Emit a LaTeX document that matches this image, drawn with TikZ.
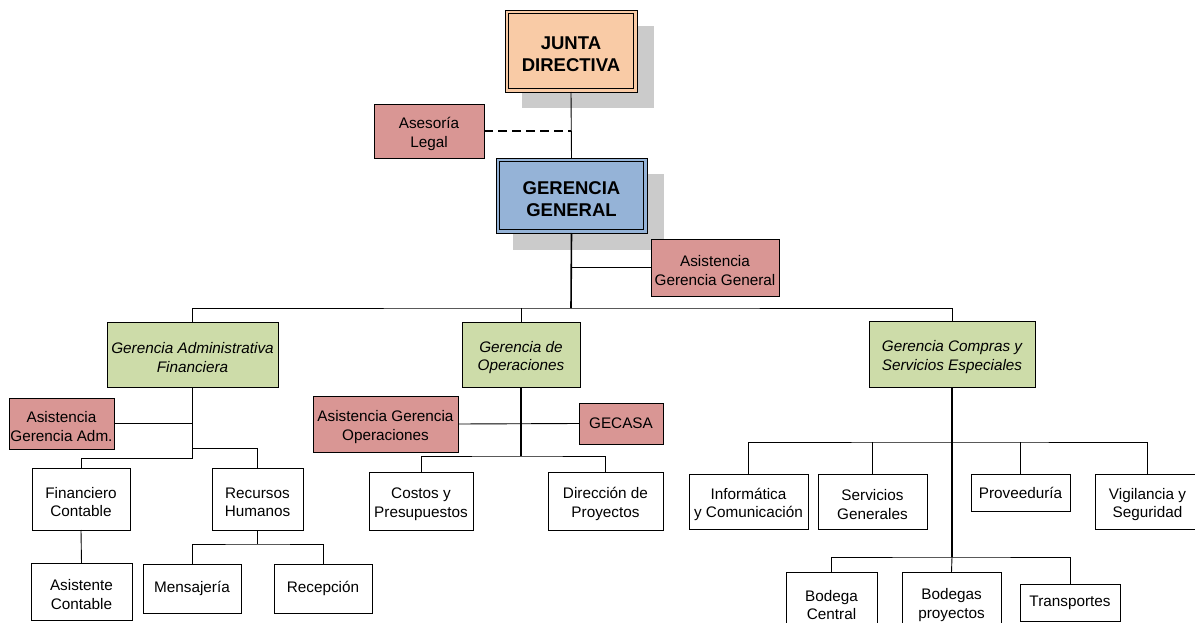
\documentclass[tikz,border=0pt]{standalone}
\usepackage{fontspec}
\setmainfont{Liberation Sans}
\usetikzlibrary{backgrounds}
\definecolor{juntafill}{HTML}{F9CBA6}
\definecolor{generalfill}{HTML}{95B3D7}
\definecolor{staffill}{HTML}{D99694}
\definecolor{mgrfill}{HTML}{CDDCA9}
\definecolor{shadowgray}{HTML}{CBCBCB}
\tikzset{
  box/.style={draw, line width=0.8pt, inner sep=0pt, outer sep=0pt, align=center,
    font=\fontsize{15.3}{18.5}\selectfont},
  plainbox/.style={box, fill=white},
  staffbox/.style={box, fill=staffill},
  mgrbox/.style={box, fill=mgrfill, font=\fontsize{15.3}{18.5}\selectfont\itshape},
  topbox/.style={box, font=\fontsize{18.5}{22}\selectfont\bfseries},
  link/.style={line width=0.9pt},
  trunk/.style={line width=1.6pt},
}
% taller first line: lowers a two-line label a little inside its box
\newcommand{\lift}{\rule{0pt}{17pt}}
\newcommand{\liftbig}{\rule{0pt}{20pt}}
\newcommand{\innerframe}[1]{%
  \draw[line width=0.8pt] ([shift={(3.3pt,-3.3pt)}]#1.north west) rectangle ([shift={(-3.3pt,3.3pt)}]#1.south east);}
\newcommand{\dropshadow}[1]{%
  \begin{scope}[on background layer]
    \fill[shadowgray] ([shift={(16.5pt,-16.5pt)}]#1.north west) rectangle ([shift={(16.5pt,-16.5pt)}]#1.south east);
  \end{scope}}
\begin{document}
\begin{tikzpicture}[x=1pt,y=-1pt]
\useasboundingbox (0,0) rectangle (1195,623);
\clip (0,0) rectangle (1195,623);

% top level
\node[topbox, fill=juntafill, minimum width=132pt, minimum height=82pt] (jd) at (571,51) {\liftbig JUNTA\\DIRECTIVA};
\node[topbox, fill=generalfill, minimum width=151pt, minimum height=75pt] (gg) at (571.5,195.5) {\liftbig GERENCIA\\GENERAL};
\innerframe{jd}
\innerframe{gg}
\dropshadow{jd}
\dropshadow{gg}

\node[staffbox, minimum width=110pt, minimum height=54pt] (asl) at (429,131) {\lift Asesoría\\Legal};
\node[staffbox, minimum width=128pt, minimum height=57pt] (ags) at (715,267.5) {\lift Asistencia\\Gerencia General};

% managers
\node[mgrbox, minimum width=171pt, minimum height=65pt] (gaf) at (192.5,354.5) {\lift Gerencia Administrativa\\Financiera};
\node[mgrbox, minimum width=118pt, minimum height=65pt] (gop) at (521,354.5) {\lift Gerencia de\\Operaciones};
\node[mgrbox, minimum width=166pt, minimum height=66pt] (gcs) at (952,354) {\lift Gerencia Compras y\\Servicios Especiales};

% administrative branch
\node[staffbox, minimum width=105pt, minimum height=51pt] (aga) at (61.5,423.5) {\lift Asistencia\\Gerencia Adm.};
\node[plainbox, minimum width=98pt, minimum height=62pt] (fc) at (81,499) {\lift Financiero\\Contable};
\node[plainbox, minimum width=91pt, minimum height=62pt] (rh) at (257.5,499) {\lift Recursos\\Humanos};
\node[plainbox, minimum width=101pt, minimum height=57pt] (ac) at (81.5,591.5) {\lift Asistente\\Contable};
\node[plainbox, minimum width=98pt, minimum height=49pt] (men) at (192,588.5) {Mensajería};
\node[plainbox, minimum width=98pt, minimum height=49pt] (rec) at (323,588.5) {Recepción};

% operations branch
\node[staffbox, minimum width=145pt, minimum height=56pt] (ago) at (385.5,424) {\lift Asistencia Gerencia\\Operaciones};
\node[staffbox, minimum width=84pt, minimum height=41pt] (gec) at (621,423.5) {GECASA};
\node[plainbox, minimum width=104pt, minimum height=58pt] (cp) at (421,501) {\lift Costos y\\Presupuestos};
\node[plainbox, minimum width=115pt, minimum height=58pt] (dp) at (605.5,501) {\lift Dirección de\\Proyectos};

% purchasing branch
\node[plainbox, minimum width=119pt, minimum height=55pt] (inf) at (748.5,501.5) {\lift Informática\\y Comunicación};
\node[plainbox, minimum width=109pt, minimum height=55pt] (sg) at (872.5,501.5) {\lift Servicios\\Generales};
\node[plainbox, minimum width=99pt, minimum height=37pt] (prv) at (1020.5,492.5) {Proveeduría};
\node[plainbox, minimum width=105pt, minimum height=55pt] (vig) at (1147.5,501.5) {\lift Vigilancia y\\Seguridad};
\node[plainbox, minimum width=91pt, minimum height=60pt] (bc) at (831.5,602) {\lift Bodega\\Central};
\node[plainbox, minimum width=99pt, minimum height=60pt] (bp) at (951.5,602) {\lift Bodegas\\proyectos};
\node[plainbox, minimum width=100pt, minimum height=37pt] (tr) at (1070,602.5) {Transportes};

% connectors: top
\draw[link] (jd.south) -- (gg.north);
\draw[line width=1.6pt, dashed, dash pattern=on 9pt off 5pt] (asl.east) -- (asl.east -| jd.south);
\coordinate (bus) at (571,308);
\draw[trunk] (gg.south) -- (bus);
\draw[link] (ags.west) -- (ags.west -| gg.south);
\draw[link] (gaf.north) |- (bus) -| (gcs.north);
\draw[link] (gop.north) -- (gop.north |- bus);

% connectors: administrative branch
\coordinate (gafr) at (192.5,448);
\coordinate (gafl) at (192.5,458);
\draw[link] (gaf.south) -- (gafl) -| (fc.north);
\draw[link] (gafr) -| (rh.north);
\draw[link] (aga.east) -- (aga.east -| gaf.south);
\draw[link] (fc.south) -- (ac.north);
\coordinate (rhb) at (257.5,544);
\draw[link] (rh.south) -- (rhb);
\draw[link] (men.north) |- (rhb) -| (rec.north);

% connectors: operations branch
\coordinate (gopb) at (521,456);
\draw[trunk] (gop.south) -- (gopb);
\draw[link] (ago.east) -- (gec.west);
\draw[link] (cp.north) |- (gopb) -| (dp.north);

% connectors: purchasing branch
\coordinate (gcsa) at (952,442);
\coordinate (gcsb) at (952,557);
\draw[trunk] (gcs.south) -- (gcsb);
\draw[link] (inf.north) |- (gcsa) -| (vig.north);
\draw[link] (sg.north) -- (sg.north |- gcsa);
\draw[link] (prv.north) -- (prv.north |- gcsa);
\draw[link] (bc.north) |- (gcsb) -| (tr.north);
\draw[link] (bp.north) -- (gcsb);
\end{tikzpicture}
\end{document}
